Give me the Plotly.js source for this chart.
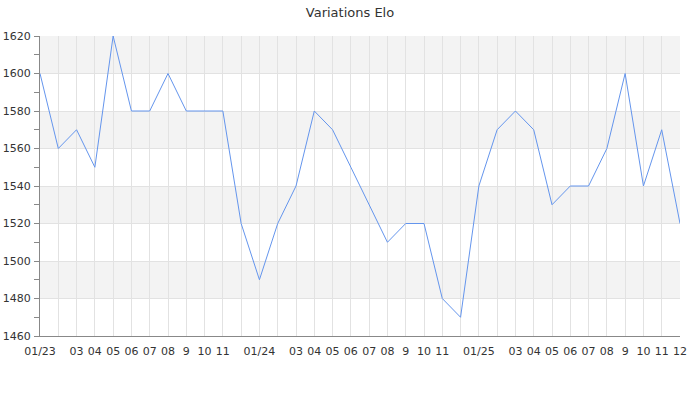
<!DOCTYPE html>
<html>
<head>
<meta charset="utf-8">
<script src="https://cdn.plot.ly/plotly-3.0.1.min.js"></script>
<style>html,body{margin:0;padding:0;background:#fff}#chart{width:700px;height:400px}</style>
</head>
<body>
<div id="chart"></div>
<script>
const labels = ["01/23","","03","04","05","06","07","08","9","10","11","",
                "01/24","","03","04","05","06","07","08","9","10","11","",
                "01/25","","03","04","05","06","07","08","9","10","11","12"];
const elo = [1600,1560,1570,1550,1620,1580,1580,1600,1580,1580,1580,1520,
             1490,1520,1540,1580,1570,1550,1530,1510,1520,1520,1480,1470,
             1540,1570,1580,1570,1530,1540,1540,1560,1600,1540,1570,1520];
const yMin = 1460, yMax = 1620, yStep = 20;

const xs = labels.map((_, i) => i);
const shapes = [];
let k = 0;
for (let v = yMax; v > yMin; v -= yStep, k++) {
  if (k % 2 === 0) {
    shapes.push({type:'rect', xref:'paper', yref:'y', x0:0, x1:1, y0:v - yStep, y1:v,
      fillcolor:'#f3f3f3', line:{width:0}, layer:'below'});
  }
}

Plotly.newPlot('chart', [{
  x: xs, y: elo, type: 'scatter', mode: 'lines',
  line: {color:'#6495ED', width:1},
  hoverinfo: 'y'
}], {
  width: 700, height: 400,
  margin: {l:40, r:20, t:36, b:64},
  paper_bgcolor: '#fff', plot_bgcolor: '#fff',
  title: {text:'Variations Elo', font:{family:'DejaVu Sans', size:13, color:'#333'},
          x:0.5, xanchor:'center', y:0.97, yanchor:'middle', yref:'container'},
  font: {family:'DejaVu Sans', size:11, color:'#333'},
  showlegend: false,
  shapes: shapes,
  xaxis: {
    range: [0, labels.length - 1],
    tickmode:'array', tickvals: xs, ticktext: labels,
    showgrid: true, gridcolor:'#e2e2e2', gridwidth:1,
    showline: true, linecolor:'#888', linewidth:1,
    ticks:'', zeroline:false, fixedrange:true,
    ticklabelstandoff: 5,
    tickfont:{size:11, color:'#333'}
  },
  yaxis: {
    range: [yMin, yMax], dtick: yStep, tick0: yMin,
    showgrid: true, gridcolor:'#e2e2e2', gridwidth:1,
    showline: true, linecolor:'#888', linewidth:1,
    ticks:'outside', ticklen:5, tickcolor:'#888',
    minor: {dtick:10, ticks:'outside', ticklen:5, tickcolor:'#888', showgrid:false},
    zeroline:false, fixedrange:true,
    ticklabelstandoff: 1,
    tickfont:{size:11, color:'#333'}
  }
}, {displayModeBar:false, staticPlot:true});
</script>
</body>
</html>
